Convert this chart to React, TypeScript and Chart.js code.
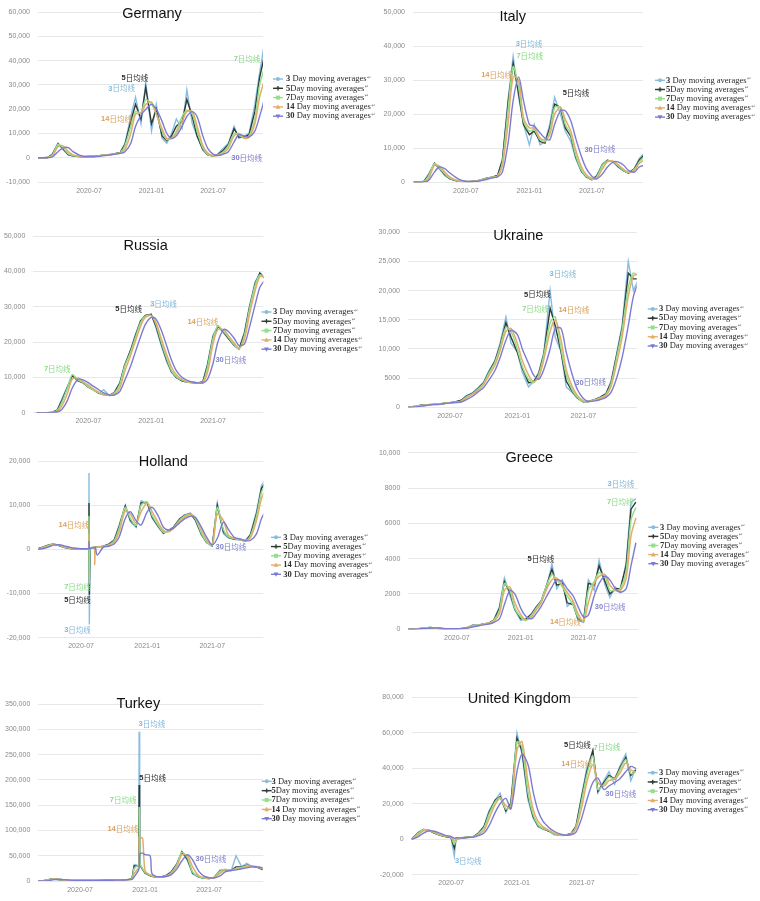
import React, { useEffect, useRef } from 'react';
import { Chart, registerables } from 'chart.js';

Chart.register(...registerables);

// ---------------- categories (dates) ----------------
const BASE_DATES = [
  '2020-02-01', '2020-02-15', '2020-03-01', '2020-03-15', '2020-04-01', '2020-04-15', '2020-05-01', '2020-05-15', '2020-06-01', '2020-06-15',
  '2020-07-01', '2020-07-15', '2020-08-01', '2020-08-15', '2020-09-01', '2020-09-15', '2020-10-01', '2020-10-15', '2020-11-01', '2020-11-15',
  '2020-12-01', '2020-12-15', '2021-01-01', '2021-01-15', '2021-02-01', '2021-02-15', '2021-03-01', '2021-03-15', '2021-04-01', '2021-04-15',
  '2021-05-01', '2021-05-15', '2021-06-01', '2021-06-15', '2021-07-01', '2021-07-15', '2021-08-01', '2021-08-15', '2021-09-01', '2021-09-15',
  '2021-10-01', '2021-10-15', '2021-11-01', '2021-11-15', '2021-11-29',
];
const HOLLAND_DATES = [
  '2020-02-01', '2020-02-15', '2020-03-01', '2020-03-15', '2020-04-01', '2020-04-15', '2020-05-01', '2020-05-15', '2020-06-01', '2020-06-15',
  '2020-07-01', '2020-07-15', '2020-07-22', '2020-07-23', '2020-07-24', '2020-07-26', '2020-08-01', '2020-08-07', '2020-08-08', '2020-08-10',
  '2020-08-15', '2020-09-01', '2020-09-15', '2020-10-01', '2020-10-15', '2020-11-01', '2020-11-15', '2020-12-01', '2020-12-15', '2021-01-01',
  '2021-01-15', '2021-02-01', '2021-02-15', '2021-03-01', '2021-03-15', '2021-04-01', '2021-04-15', '2021-05-01', '2021-05-15', '2021-06-01',
  '2021-06-15', '2021-07-01', '2021-07-15', '2021-08-01', '2021-08-15', '2021-09-01', '2021-09-15', '2021-10-01', '2021-10-15', '2021-11-01',
  '2021-11-15', '2021-11-29',
];
const TURKEY_DATES = [
  '2020-02-01', '2020-02-15', '2020-03-01', '2020-03-15', '2020-04-01', '2020-04-15', '2020-05-01', '2020-05-15', '2020-06-01', '2020-06-15',
  '2020-07-01', '2020-07-15', '2020-08-01', '2020-08-15', '2020-09-01', '2020-09-15', '2020-10-01', '2020-10-15', '2020-11-01', '2020-11-15',
  '2020-11-25', '2020-12-01', '2020-12-14', '2020-12-15', '2020-12-16', '2020-12-17', '2020-12-20', '2020-12-25', '2021-01-01', '2021-01-15',
  '2021-01-20', '2021-02-01', '2021-02-15', '2021-03-01', '2021-03-15', '2021-04-01', '2021-04-15', '2021-05-01', '2021-05-15', '2021-06-01',
  '2021-06-15', '2021-07-01', '2021-07-15', '2021-08-01', '2021-08-15', '2021-09-01', '2021-09-15', '2021-10-01', '2021-10-15', '2021-11-01',
  '2021-11-15', '2021-11-29',
];
const UK_DATES = [
  '2020-02-01', '2020-02-15', '2020-03-01', '2020-03-15', '2020-04-01', '2020-04-15', '2020-05-01', '2020-05-15', '2020-06-01', '2020-06-15',
  '2020-07-01', '2020-07-10', '2020-07-15', '2020-08-01', '2020-08-15', '2020-09-01', '2020-09-15', '2020-10-01', '2020-10-15', '2020-11-01',
  '2020-11-15', '2020-12-01', '2020-12-15', '2021-01-01', '2021-01-15', '2021-02-01', '2021-02-15', '2021-03-01', '2021-03-15', '2021-04-01',
  '2021-04-15', '2021-05-01', '2021-05-15', '2021-06-01', '2021-06-15', '2021-07-01', '2021-07-15', '2021-08-01', '2021-08-15', '2021-09-01',
  '2021-09-15', '2021-10-01', '2021-10-15', '2021-11-01', '2021-11-15', '2021-11-29',
];

const X_TICK_DATES = ['2020-07-01', '2021-01-01', '2021-07-01'];
const X_TICK_LABELS = ['2020-07', '2021-01', '2021-07'];

const LEGEND_NUMBERS = ['3', '5', '7', '14', '30'];
const LEGEND_TEXTS = [' Day moving averages', 'Day moving averages', 'Day moving averages', ' Day moving averages', ' Day moving averages'];
const NOTE_TEXTS = ['日均线', '日均线', '日均线', '日均线', '日均线'];

// ---------------- series values (thousands of daily cases) ----------------
const GERMANY_3 = [0, 0, 0.1, 1.5, 6, 3.5, 1.2, 0.7, 0.5, 0.4, 0.5, 0.5, 0.8, 1.2, 1.3, 1.7, 2.2, 6, 17, 25, 14, 31, 11, 22, 8, 6, 10, 16, 12, 28, 14, 9, 3, 1.2, 0.6, 1.5, 4, 6, 13, 8, 9, 10, 22, 35, 47];
const GERMANY_5 = [0, 0, 0.1, 1.3, 5.8, 3.8, 1.3, 0.8, 0.5, 0.4, 0.5, 0.5, 0.8, 1.2, 1.3, 1.7, 2.1, 5.5, 15, 22, 16, 29, 14, 20, 9, 7, 9, 13, 15, 24, 17, 9, 3.5, 1.3, 0.7, 1.3, 3.2, 5.5, 12, 8.5, 8.5, 9.5, 19, 33, 42];
const GERMANY_7 = [0, 0, 0.08, 1.1, 5.5, 4.2, 1.6, 0.9, 0.5, 0.4, 0.5, 0.5, 0.8, 1.2, 1.3, 1.6, 2.0, 5, 13, 19, 18.5, 24, 22, 18, 11, 7.5, 8, 11, 17, 19.5, 18, 11, 4, 1.5, 0.7, 1.2, 2.5, 5, 10, 9.5, 8, 9, 16, 30, 37];
const GERMANY_14 = [0, 0, 0.05, 0.7, 4.5, 5, 2.5, 1.2, 0.6, 0.45, 0.5, 0.5, 0.7, 1.1, 1.3, 1.6, 1.9, 3.5, 10, 18, 18.5, 22, 23, 18, 12, 8, 8, 10, 15, 19, 19, 13, 5, 2, 0.8, 1.0, 2, 4, 9, 10, 8, 8.5, 14, 25, 32];
const GERMANY_30 = [0, 0, 0.02, 0.3, 2.5, 4, 4.2, 2.5, 1.2, 0.6, 0.5, 0.5, 0.6, 0.9, 1.2, 1.5, 1.8, 2.5, 6, 13, 17.5, 20, 22, 20, 15, 10, 8, 9, 13, 17, 19, 17, 9, 4, 1.5, 0.9, 1.5, 2.5, 6.5, 9.5, 9, 8.5, 11, 17, 24];

const ITALY_3 = [0, 0, 0.3, 2.5, 5.5, 4, 2, 1, 0.5, 0.3, 0.2, 0.25, 0.4, 0.8, 1.3, 1.5, 2, 7, 25, 37, 25, 17, 11, 17, 11, 12, 17, 25, 20, 15, 12, 7, 3, 1.5, 0.8, 2, 5.5, 6.5, 6, 4.5, 3.3, 2.7, 4, 7, 8.5];
const ITALY_5 = [0, 0, 0.2, 2, 5.6, 4.2, 2.2, 1.1, 0.5, 0.3, 0.2, 0.25, 0.4, 0.7, 1.3, 1.5, 2, 6.5, 24, 35, 26, 17, 14, 15, 12, 11.5, 16, 23, 22, 16, 13.5, 7.5, 3.2, 1.6, 0.8, 1.8, 5.2, 6.5, 6, 4.6, 3.4, 2.7, 4, 6.5, 8];
const ITALY_7 = [0, 0, 0.2, 1.8, 5.5, 4.3, 2.5, 1.2, 0.6, 0.3, 0.2, 0.25, 0.4, 0.7, 1.2, 1.5, 1.9, 6, 22, 34, 28, 18, 15, 15.5, 12.5, 12, 15, 22, 22, 17, 14, 8, 3.5, 1.7, 0.9, 1.6, 5, 6.3, 6, 4.8, 3.5, 2.8, 3.8, 6, 7.5];
const ITALY_14 = [0, 0, 0.1, 1, 5, 4.8, 3, 1.6, 0.7, 0.4, 0.2, 0.25, 0.35, 0.6, 1.1, 1.4, 1.8, 5, 18, 31, 30, 19, 16, 16, 13, 12.5, 14, 20, 22, 18.5, 15, 9.5, 4.5, 2.2, 1.1, 1.2, 4, 6, 6.2, 5.2, 3.8, 3, 3.5, 5.5, 6.5];
const ITALY_30 = [0, 0, 0.05, 0.5, 3, 4.5, 4, 2.8, 1.5, 0.7, 0.3, 0.25, 0.3, 0.5, 0.9, 1.3, 1.6, 3, 12, 24, 31, 24, 17, 16.5, 14.5, 13, 12.5, 17, 21, 21, 18, 13, 7.5, 4, 1.8, 1.0, 2.5, 4.5, 6, 6, 5, 3.5, 3, 4.5, 5];

const RUSSIA_3 = [0, 0, 0, 0.05, 0.8, 4, 7.5, 10.5, 9, 8.5, 7.2, 6.5, 5.5, 6.5, 4.8, 5.8, 8.5, 13.5, 17.5, 22, 26, 27.5, 28, 24, 18.5, 14.5, 11.5, 10, 9, 8.7, 8.5, 8.3, 8.8, 14, 22, 24.5, 22.5, 21, 19, 18, 23, 30, 37, 39.5, 38];
const RUSSIA_5 = [0, 0, 0, 0.04, 0.7, 3.5, 7.2, 10.5, 9, 8.5, 7.2, 6.5, 5.5, 5.2, 4.9, 5.7, 8.3, 13.3, 17.5, 21.5, 26, 27.5, 27.8, 24.5, 19, 15, 11.7, 10, 9, 8.7, 8.5, 8.4, 8.7, 13.5, 21.5, 24.5, 22.8, 21, 19, 18, 22.5, 29.5, 36.5, 39.5, 38];
const RUSSIA_7 = [0, 0, 0, 0.03, 0.6, 3, 7, 10.8, 9.2, 8.6, 7.3, 6.5, 5.6, 5, 5, 5.6, 8, 13, 17, 21, 25.5, 27.3, 27.5, 25, 19.5, 15.5, 12, 10.2, 9.2, 8.7, 8.5, 8.5, 8.6, 13, 21, 24.5, 23, 21.3, 19.2, 18, 22, 29, 36, 39, 38.2];
const RUSSIA_14 = [0, 0, 0, 0.02, 0.4, 2, 5.5, 9.5, 9.8, 8.8, 7.8, 6.8, 5.8, 5.1, 5, 5.3, 7, 11.5, 16, 20, 24.5, 27, 27.5, 25.5, 20.5, 16.5, 13, 10.8, 9.4, 8.8, 8.6, 8.5, 8.5, 11.5, 19.5, 23.5, 23.5, 21.8, 19.7, 18.3, 21, 27.5, 34.5, 38.5, 38.5];
const RUSSIA_30 = [0, 0, 0, 0, 0.2, 1, 3.5, 7, 9.5, 9.3, 8.5, 7.5, 6.5, 5.6, 5, 5, 6, 9, 13, 17, 21.5, 25, 27, 26.5, 23, 19, 15, 12, 10, 9.2, 8.7, 8.5, 8.4, 9.5, 14, 20, 23.5, 23, 21, 19, 19.5, 24, 30.5, 35.5, 37.5];

const UKRAINE_3 = [0, 0, 0, 0.05, 0.2, 0.4, 0.45, 0.5, 0.55, 0.7, 0.8, 0.9, 1.2, 2.0, 2.5, 3.3, 4.3, 6.2, 8.0, 11, 15.5, 11, 9.5, 6, 3.5, 4.5, 6.0, 9.5, 20, 12, 9.5, 3.5, 2.5, 1.5, 0.9, 1.0, 1.3, 1.7, 2.4, 4.5, 9.5, 14, 25, 20, 22];
const UKRAINE_5 = [0, 0, 0, 0.05, 0.2, 0.4, 0.45, 0.5, 0.55, 0.7, 0.8, 0.9, 1.2, 1.9, 2.4, 3.2, 4.2, 6.0, 7.9, 10.6, 14.5, 12, 9.5, 6.7, 4.2, 4.3, 5.8, 9.2, 17, 14, 9.5, 4.5, 2.7, 1.6, 0.9, 1.0, 1.3, 1.7, 2.3, 4.3, 9.2, 13.5, 23, 22, 22];
const UKRAINE_7 = [0, 0, 0, 0.04, 0.2, 0.35, 0.45, 0.5, 0.55, 0.7, 0.8, 0.85, 1.1, 1.8, 2.3, 3.1, 4.1, 5.8, 7.7, 10.3, 13.7, 13, 10, 7, 4.8, 4.2, 5.6, 9, 14.5, 15.5, 10, 5.6, 2.9, 1.7, 0.95, 1.0, 1.3, 1.6, 2.2, 4.1, 8.8, 13.2, 20.5, 23, 22.5];
const UKRAINE_14 = [0, 0, 0, 0.03, 0.15, 0.3, 0.4, 0.5, 0.5, 0.65, 0.8, 0.85, 1.0, 1.6, 2.2, 2.9, 3.9, 5.4, 7.2, 9.7, 13, 13.5, 11, 8, 5.5, 4.4, 5.2, 8.2, 13, 15, 11.5, 6.5, 3.5, 2, 1.1, 1.0, 1.2, 1.5, 2.0, 3.6, 7.8, 12, 19, 22.5, 22.8];
const UKRAINE_30 = [0, 0, 0, 0, 0.1, 0.2, 0.35, 0.45, 0.5, 0.6, 0.75, 0.8, 0.9, 1.3, 1.9, 2.6, 3.4, 4.6, 6.3, 8.5, 11.5, 13.2, 12.5, 10, 7.5, 5.5, 4.8, 6.5, 10, 13.5, 13.5, 9.5, 5.5, 3, 1.5, 1.0, 1.1, 1.3, 1.7, 2.6, 5.2, 8.5, 14, 19, 21.5];

const HOLLAND_3 = [0, 0, 0.05, 0.5, 1.0, 1.2, 0.8, 0.4, 0.2, 0.15, 0.1, 0.15, 0.1, 17.3, -17, 0.3, 0.4, 0.5, 0.5, 0.5, 0.5, 0.7, 1.2, 2.2, 5.5, 10, 6.3, 5, 11, 10.5, 7, 5, 3.5, 4.3, 5, 7, 7.8, 8.2, 6.5, 3.2, 1.5, 0.7, 10.5, 3.5, 2.6, 2.3, 2.2, 1.8, 3.5, 8.5, 14.5, 16];
const HOLLAND_5 = [0, 0, 0.05, 0.45, 0.95, 1.2, 0.85, 0.45, 0.2, 0.15, 0.1, 0.15, 0.1, 10.5, -10.3, 0.25, 0.4, 0.5, 0.5, 0.5, 0.5, 0.7, 1.1, 2.0, 5.2, 9.8, 6.6, 5.2, 10.5, 10.6, 7.3, 5.2, 3.7, 4.2, 5, 6.8, 7.7, 8.1, 6.7, 3.4, 1.6, 0.8, 10, 4, 2.7, 2.3, 2.2, 1.9, 3.2, 8, 13.8, 15.5];
const HOLLAND_7 = [0, 0, 0.05, 0.4, 0.9, 1.2, 0.9, 0.5, 0.25, 0.15, 0.1, 0.15, 0.1, 7.4, -7.5, 0.25, 0.4, 0.5, 0.5, 0.5, 0.5, 0.7, 1.0, 1.9, 4.8, 9.5, 7, 5.4, 10, 10.7, 7.6, 5.4, 3.9, 4.1, 4.9, 6.6, 7.6, 8, 6.9, 3.6, 1.7, 0.8, 9.5, 4.5, 2.8, 2.4, 2.2, 1.9, 3, 7.5, 13, 15];
const HOLLAND_14 = [0, 0, 0.03, 0.3, 0.7, 1.1, 1.0, 0.6, 0.3, 0.2, 0.15, 0.15, 0.12, 3.5, 0.2, 0.3, 0.4, 0.4, -3.5, 0.4, 0.5, 0.6, 0.9, 1.6, 4, 8.7, 8, 6, 8.5, 10.5, 8.5, 6, 4.3, 4, 4.7, 6.2, 7.3, 7.9, 7.3, 4.5, 2.2, 1.0, 8, 6.5, 3.2, 2.5, 2.3, 2, 2.6, 6.5, 11.5, 14];
const HOLLAND_30 = [0, 0, 0.02, 0.15, 0.5, 0.95, 1.05, 0.8, 0.45, 0.25, 0.15, 0.15, 0.12, 1.8, 0.15, 0.2, 0.3, 0.35, 0.35, 0.4, -1.3, 0.5, 0.7, 1.2, 2.8, 7, 8.5, 6.5, 5.5, 8.5, 9.5, 7.5, 5, 4.4, 4.8, 6, 6.9, 7.5, 7.2, 5, 2.8, 1.0, 2.5, 6.2, 4.5, 2.7, 2.4, 2.0, 2.0, 3.5, 7, 9];

const GREECE_3 = [0, 0, 0.01, 0.05, 0.08, 0.1, 0.06, 0.03, 0.02, 0.03, 0.03, 0.05, 0.1, 0.25, 0.22, 0.3, 0.35, 0.5, 1.3, 2.9, 1.9, 1.1, 0.5, 0.6, 0.9, 1.3, 1.6, 2.2, 3.7, 2.3, 2.8, 1.3, 1.6, 0.5, 0.4, 2.8, 2.2, 3.9, 2.5, 1.8, 2.4, 2.1, 3.8, 7.2, 7.4];
const GREECE_5 = [0, 0, 0.01, 0.04, 0.08, 0.1, 0.07, 0.03, 0.02, 0.03, 0.03, 0.05, 0.1, 0.22, 0.23, 0.3, 0.35, 0.5, 1.2, 2.7, 2.1, 1.15, 0.6, 0.55, 0.85, 1.25, 1.6, 2.4, 3.4, 2.5, 2.6, 1.5, 1.4, 0.6, 0.45, 2.6, 2.5, 3.6, 2.7, 2.0, 2.3, 2.3, 3.6, 6.8, 7.2];
const GREECE_7 = [0, 0, 0.01, 0.04, 0.07, 0.1, 0.07, 0.04, 0.02, 0.03, 0.03, 0.05, 0.1, 0.2, 0.23, 0.3, 0.35, 0.5, 1.1, 2.6, 2.2, 1.2, 0.7, 0.5, 0.8, 1.2, 1.6, 2.4, 3.1, 2.8, 2.4, 1.9, 1.4, 0.7, 0.5, 2.2, 2.7, 3.2, 3.0, 2.2, 2.2, 2.3, 3.3, 6.2, 6.9];
const GREECE_14 = [0, 0, 0, 0.03, 0.06, 0.09, 0.08, 0.05, 0.03, 0.03, 0.03, 0.05, 0.09, 0.18, 0.22, 0.28, 0.34, 0.45, 0.9, 2.2, 2.4, 1.5, 0.85, 0.55, 0.7, 1.1, 1.5, 2.2, 2.8, 2.9, 2.5, 2.1, 1.6, 0.9, 0.45, 1.5, 2.6, 3.0, 3.1, 2.5, 2.2, 2.2, 2.9, 5.3, 6.3];
const GREECE_30 = [0, 0, 0, 0.02, 0.04, 0.07, 0.08, 0.07, 0.04, 0.03, 0.03, 0.04, 0.07, 0.13, 0.2, 0.25, 0.3, 0.38, 0.6, 1.4, 2.2, 2.0, 1.2, 0.75, 0.6, 0.9, 1.3, 1.8, 2.4, 2.8, 2.7, 2.3, 1.9, 1.3, 0.7, 0.8, 1.9, 2.6, 3.0, 2.8, 2.3, 2.1, 2.3, 3.6, 4.9];

const TURKEY_3 = [0, 0, 0, 0.3, 2.5, 4.5, 2.5, 1.8, 1, 1.2, 1.2, 1, 1, 1.2, 1.5, 1.7, 1.6, 1.7, 2.2, 3.3, 5, 33, 30, 295, 32, 30, 28, 22, 15, 10, 9.5, 7.5, 8, 11, 18, 35, 58, 40, 14, 7.5, 5.5, 5, 7.5, 22, 22, 20, 50, 28, 35, 28, 27, 22];
const TURKEY_5 = [0, 0, 0, 0.25, 2.3, 4.3, 2.7, 1.9, 1.1, 1.2, 1.2, 1, 1, 1.2, 1.5, 1.7, 1.6, 1.7, 2.2, 3.3, 4.5, 30, 30, 190, 185, 30, 29, 23, 16, 10.5, 9.5, 7.8, 8, 10.5, 17, 34, 58, 42, 16, 8, 5.8, 5, 7.2, 20, 22.5, 21, 28, 28, 31, 29, 27, 23];
const TURKEY_7 = [0, 0, 0, 0.2, 2, 4.2, 2.9, 2, 1.2, 1.2, 1.2, 1, 1, 1.2, 1.5, 1.7, 1.6, 1.7, 2.1, 3.2, 4.2, 25, 33, 145, 145, 33, 30, 24, 17, 11, 10, 8, 8, 10, 16, 33, 57, 45, 18, 8.5, 6, 5.2, 7, 19, 23, 21, 25, 27, 30, 29, 27.5, 24];
const TURKEY_14 = [0, 0, 0, 0.1, 1.3, 3.8, 3.3, 2.3, 1.4, 1.2, 1.2, 1.1, 1, 1.2, 1.4, 1.6, 1.6, 1.7, 2, 3, 3.8, 15, 28, 87, 87, 87, 86, 84, 20, 12, 11, 8.5, 8, 9.5, 14, 30, 52, 50, 28, 11, 7, 5.5, 6.5, 15, 22, 21.5, 23, 25, 28, 29, 28, 25];
const TURKEY_30 = [0, 0, 0, 0.05, 0.6, 2.5, 3.5, 2.8, 1.8, 1.3, 1.2, 1.1, 1, 1.1, 1.3, 1.5, 1.6, 1.7, 1.9, 2.6, 3.2, 8, 22, 28, 50, 54, 55, 55, 52, 50, 15, 9, 8.5, 9, 12, 24, 40, 52, 42, 20, 10, 6.5, 6, 10, 18, 21, 22, 24, 26, 28, 28, 26];

const UK_3 = [0, 0, 0.1, 0.5, 4, 5.5, 5, 3.5, 2.2, 1.5, 0.8, -9.5, 0.5, 0.8, 1.1, 1.5, 3.5, 7.5, 16, 22, 26, 15, 21, 60, 48, 22, 12, 7, 5.5, 4.5, 2.5, 2.2, 2.2, 3.3, 7.5, 25, 40, 50, 26, 33, 38, 31, 41, 48, 33, 40];
const UK_5 = [0, 0, 0.1, 0.4, 3.8, 5.5, 5, 3.5, 2.2, 1.5, 0.9, -5, 0, 0.8, 1.1, 1.4, 3.3, 7, 15, 22, 24, 16, 20, 57, 50, 24, 13, 7.5, 6, 4.5, 3, 2.2, 2.2, 3.2, 7.2, 24, 38, 50, 27, 32, 36, 34, 40, 46, 36, 39];
const UK_7 = [0, 0, 0.08, 0.35, 3.5, 5.3, 5, 3.7, 2.3, 1.6, 1, -3, -0.5, 0.8, 1.1, 1.4, 3.1, 6.5, 14, 21, 23.5, 17, 19, 55, 52, 26, 14, 8, 6, 4.7, 3, 2.3, 2.2, 3.1, 7, 22, 36, 47, 28, 31, 35, 34, 39, 45, 37, 38];
const UK_14 = [0, 0, 0.05, 0.2, 2.5, 4.8, 5, 4, 2.7, 1.8, 1.2, -1, 0.3, 0.7, 1.0, 1.3, 2.6, 5, 11.5, 19.5, 23, 19, 17.5, 50, 55, 32, 17, 10, 7, 5, 3.5, 2.5, 2.2, 2.8, 6, 18, 32, 42, 32, 30, 33, 34, 37, 43, 39, 38];
const UK_30 = [0, 0, 0.02, 0.1, 1.5, 3.5, 4.8, 4.5, 3.3, 2.2, 1.5, 0.5, 0.8, 0.7, 0.9, 1.2, 2, 3.5, 7.5, 15, 20, 23, 17, 38, 48, 42, 27, 16, 10, 6.5, 4.5, 3, 2.3, 2.5, 4, 12, 22, 32, 34.5, 28, 30, 32, 34, 38, 41, 40];

// annotation labels: [series index, date, value]
type Note = [number, string, number];
const GERMANY_NOTES: Note[] = [[2, '2021-10-09', 40600], [1, '2020-11-13', 33000], [0, '2020-10-05', 28500], [3, '2020-09-20', 16000], [4, '2021-10-08', 0]];
const ITALY_NOTES: Note[] = [[0, '2020-12-31', 40600], [2, '2021-01-02', 37200], [3, '2020-09-28', 31600], [1, '2021-05-16', 26350], [4, '2021-07-24', 9630]];
const RUSSIA_NOTES: Note[] = [[2, '2020-04-01', 12400], [1, '2020-10-27', 29300], [0, '2021-02-06', 30800], [3, '2021-06-01', 25750], [4, '2021-08-22', 14800]];
const UKRAINE_NOTES: Note[] = [[0, '2021-05-06', 22800], [1, '2021-02-25', 19300], [2, '2021-02-20', 16900], [3, '2021-06-05', 16650], [4, '2021-07-21', 4250]];
const HOLLAND_NOTES: Note[] = [[3, '2020-06-11', 5430], [2, '2020-06-21', -8460], [1, '2020-06-21', -11400], [0, '2020-06-21', -18330], [4, '2021-08-22', 450]];
const GREECE_NOTES: Note[] = [[0, '2021-10-17', 8215], [2, '2021-10-15', 7210], [1, '2021-02-28', 3966], [4, '2021-09-16', 1280], [3, '2021-05-10', 414]];
const TURKEY_NOTES: Note[] = [[0, '2021-01-20', 310000], [1, '2021-01-22', 203700], [2, '2020-10-31', 160000], [3, '2020-10-30', 102800], [4, '2021-07-06', 44100]];
const UK_NOTES: Note[] = [[0, '2020-08-18', -12450], [1, '2021-06-19', 53000], [2, '2021-09-09', 51700], [3, '2021-06-17', 42230], [4, '2021-10-18', 25640]];

// ---------------- styles ----------------
const LINE_COLORS = ['#86bde0', '#2f3a33', '#93df8c', '#e2ad6a', '#7c7bd3'];
const NOTE_COLORS = ['#82b8d8', '#2b2b2b', '#8bd985', '#d9a35f', '#8282cc'];
const LINE_WIDTHS = [1.4, 1.4, 1.5, 1.5, 1.4];
const LINE_TENSION = [0, 0, 0.25, 0.3, 0.3];
const DRAW_ORDER = [4, 3, 2, 1, 0];
const MARKERS = ['circle', 'cross', 'rect', 'triangle', 'tridown'];
const SANS = '"Liberation Sans", Arial, sans-serif';
const SERIF = '"Liberation Serif", "Times New Roman", serif';
const CJK = '"Noto Sans CJK SC", sans-serif';

type Panel = {
  name: string;
  dates: string[];
  series: number[][];
  notes: Note[];
  box: [number, number, number, number];
  area: [number, number, number, number];
  y: [number, number, number];
  x: [string, string];
  title: [number, number];
  legend: [number, number, number, number];
};

const PANELS: Panel[] = [
  { name: 'Germany', dates: BASE_DATES, series: [GERMANY_3, GERMANY_5, GERMANY_7, GERMANY_14, GERMANY_30], notes: GERMANY_NOTES,
    box: [0, 0, 380, 200], area: [38, 5.7, 263, 182], y: [-10000, 60000, 10000], x: ['2020-02-02', '2021-11-25'], title: [152, 14], legend: [278, 286, 79, 9.3] },
  { name: 'Italy', dates: BASE_DATES, series: [ITALY_3, ITALY_5, ITALY_7, ITALY_14, ITALY_30], notes: ITALY_NOTES,
    box: [378, 0, 382, 200], area: [413, 6, 643, 182.3], y: [0, 50000, 10000], x: ['2020-01-30', '2021-11-26'], title: [512.7, 16.7], legend: [660, 666, 80.3, 9.2] },
  { name: 'Russia', dates: BASE_DATES, series: [RUSSIA_3, RUSSIA_5, RUSSIA_7, RUSSIA_14, RUSSIA_30], notes: RUSSIA_NOTES,
    box: [0, 220, 380, 210], area: [33.3, 236, 263.3, 412.7], y: [0, 50000, 10000], x: ['2020-01-22', '2021-11-25'], title: [145.7, 246], legend: [266.5, 273, 312, 9.3] },
  { name: 'Ukraine', dates: BASE_DATES, series: [UKRAINE_3, UKRAINE_5, UKRAINE_7, UKRAINE_14, UKRAINE_30], notes: UKRAINE_NOTES,
    box: [376, 220, 384, 210], area: [408, 230.7, 636.7, 407.3], y: [0, 30000, 5000], x: ['2020-03-08', '2021-11-24'], title: [518.3, 236], legend: [652.7, 659, 309, 9.25] },
  { name: 'Holland', dates: HOLLAND_DATES, series: [HOLLAND_3, HOLLAND_5, HOLLAND_7, HOLLAND_14, HOLLAND_30], notes: HOLLAND_NOTES,
    box: [0, 440, 380, 220], area: [38.3, 461, 263.3, 637.7], y: [-20000, 20000, 10000], x: ['2020-03-04', '2021-11-20'], title: [163.3, 461.7], legend: [276, 283.3, 537.3, 9.25] },
  { name: 'Greece', dates: BASE_DATES, series: [GREECE_3, GREECE_5, GREECE_7, GREECE_14, GREECE_30], notes: GREECE_NOTES,
    box: [378, 440, 382, 220], area: [408.3, 452.7, 638.3, 629.3], y: [0, 10000, 2000], x: ['2020-02-12', '2021-12-06'], title: [529.3, 458.3], legend: [653.3, 660, 527.3, 9.1] },
  { name: 'Turkey', dates: TURKEY_DATES, series: [TURKEY_3, TURKEY_5, TURKEY_7, TURKEY_14, TURKEY_30], notes: TURKEY_NOTES,
    box: [0, 680, 380, 221], area: [38.3, 704, 263.3, 881], y: [0, 350000, 50000], x: ['2020-03-05', '2021-12-01'], title: [138.3, 704], legend: [266.7, 271.5, 781.3, 9.35] },
  { name: 'United Kingdom', dates: UK_DATES, series: [UK_3, UK_5, UK_7, UK_14, UK_30], notes: UK_NOTES,
    box: [378, 680, 382, 221], area: [411.7, 697.3, 638.3, 874.7], y: [-20000, 80000, 20000], x: ['2020-03-13', '2021-12-06'], title: [519.3, 699.3], legend: [652.7, 659, 772.7, 9.25] },
];

const ORIGIN = Date.UTC(2020, 1, 1);
function dayOf(s: string): number {
  const [y, m, d] = s.split('-').map(Number);
  return Math.round((Date.UTC(y, m - 1, d) - ORIGIN) / 86400000);
}

function fmtTick(v: number): string {
  return Math.abs(v) >= 10000 ? v.toLocaleString('en-US') : String(v);
}

function drawMarker(ctx: CanvasRenderingContext2D, kind: string, x: number, y: number, color: string) {
  ctx.save();
  ctx.strokeStyle = color;
  ctx.fillStyle = color;
  ctx.lineWidth = 1.4;
  ctx.beginPath();
  ctx.moveTo(x - 5, y);
  ctx.lineTo(x + 5, y);
  ctx.stroke();
  ctx.beginPath();
  if (kind === 'circle') {
    ctx.arc(x, y, 2, 0, Math.PI * 2);
    ctx.fill();
  } else if (kind === 'cross') {
    ctx.lineWidth = 1.3;
    ctx.moveTo(x - 2.2, y); ctx.lineTo(x + 2.2, y);
    ctx.moveTo(x, y - 2.2); ctx.lineTo(x, y + 2.2);
    ctx.stroke();
  } else if (kind === 'rect') {
    ctx.fillRect(x - 2, y - 2, 4, 4);
  } else if (kind === 'triangle') {
    ctx.moveTo(x, y - 2.5); ctx.lineTo(x + 2.4, y + 1.8); ctx.lineTo(x - 2.4, y + 1.8); ctx.closePath();
    ctx.fill();
  } else {
    ctx.moveTo(x, y + 2.5); ctx.lineTo(x + 2.4, y - 1.8); ctx.lineTo(x - 2.4, y - 1.8); ctx.closePath();
    ctx.fill();
  }
  ctx.restore();
}

function decorPlugin(p: Panel) {
  return {
    id: 'panelDecor',
    afterDraw(chart: any) {
      const ctx: CanvasRenderingContext2D = chart.ctx;
      const [bx, by] = p.box;
      ctx.save();
      // title
      ctx.font = `14.5px ${SANS}`;
      ctx.fillStyle = '#111';
      ctx.textAlign = 'center';
      ctx.textBaseline = 'middle';
      ctx.fillText(p.name, p.title[0] - bx, p.title[1] - by);

      // legend
      const [mx, tx, ly, dy] = p.legend;
      for (let i = 0; i < 5; i++) {
        const y = ly + i * dy - by;
        drawMarker(ctx, MARKERS[i], mx - bx, y, LINE_COLORS[i]);
        ctx.textAlign = 'left';
        ctx.textBaseline = 'middle';
        ctx.fillStyle = '#2a2a2a';
        let x = tx - bx;
        ctx.font = `bold 8.5px ${SERIF}`;
        ctx.fillText(LEGEND_NUMBERS[i], x, y);
        x += ctx.measureText(LEGEND_NUMBERS[i]).width;
        ctx.font = `8.5px ${SERIF}`;
        ctx.fillText(LEGEND_TEXTS[i], x, y);
        x += ctx.measureText(LEGEND_TEXTS[i]).width;
        ctx.font = `5px "DejaVu Sans", sans-serif`;
        ctx.fillStyle = '#777';
        ctx.fillText('↵', x + 0.5, y - 1.5);
      }

      // annotations
      const xs = chart.scales.x;
      const ys = chart.scales.y;
      for (const [si, date, value] of p.notes) {
        const cx = xs.getPixelForValue(dayOf(date));
        const cy = ys.getPixelForValue(value);
        const num = LEGEND_NUMBERS[si];
        const txt = NOTE_TEXTS[si];
        ctx.font = `bold 7.5px ${SANS}`;
        const w1 = ctx.measureText(num).width;
        ctx.font = `7.5px ${CJK}`;
        const w2 = ctx.measureText(txt).width;
        let x = cx - (w1 + w2) / 2;
        ctx.fillStyle = NOTE_COLORS[si];
        ctx.textAlign = 'left';
        ctx.textBaseline = 'middle';
        ctx.font = `bold 7.5px ${SANS}`;
        ctx.fillText(num, x, cy);
        x += w1;
        ctx.font = `7.5px ${CJK}`;
        ctx.fillText(txt, x, cy);
      }
      ctx.restore();
    },
  };
}

function PanelChart({ panel }: { panel: Panel }) {
  const ref = useRef<HTMLCanvasElement | null>(null);
  useEffect(() => {
    if (!ref.current) return;
    const p = panel;
    const [bx, by, bw, bh] = p.box;
    const [al, at, ar, ab] = p.area;
    const chart = new Chart(ref.current, {
      type: 'line',
      data: {
        datasets: p.series.map((s, i) => ({
          label: LEGEND_NUMBERS[i] + LEGEND_TEXTS[i],
          data: s.map((v, j) => ({ x: dayOf(p.dates[j]), y: v * 1000 })),
          borderColor: LINE_COLORS[i],
          backgroundColor: LINE_COLORS[i],
          borderWidth: LINE_WIDTHS[i],
          pointRadius: 0,
          pointHoverRadius: 0,
          tension: LINE_TENSION[i],
          fill: false,
          order: DRAW_ORDER[i],
        })),
      },
      options: {
        responsive: false,
        maintainAspectRatio: false,
        animation: false,
        devicePixelRatio: 1,
        events: [],
        layout: { padding: { left: 0, top: at - by, right: bx + bw - ar, bottom: 0 } },
        plugins: { legend: { display: false }, tooltip: { enabled: false }, title: { display: false } },
        scales: {
          x: {
            type: 'linear',
            min: dayOf(p.x[0]),
            max: dayOf(p.x[1]),
            grid: { display: false, drawTicks: false },
            border: { display: false },
            afterBuildTicks: (scale: any) => {
              scale.ticks = X_TICK_DATES.map((d) => ({ value: dayOf(d) }));
            },
            afterFit: (scale: any) => {
              scale.height = by + bh - ab;
            },
            ticks: {
              autoSkip: false,
              maxRotation: 0,
              minRotation: 0,
              padding: 4.5,
              color: '#8a8a8a',
              font: { size: 7, family: SANS },
              callback: (_v: any, i: number) => X_TICK_LABELS[i],
            },
          },
          y: {
            type: 'linear',
            min: p.y[0],
            max: p.y[1],
            grid: { color: '#e8e8e8', lineWidth: 1, drawTicks: false },
            border: { display: false },
            afterFit: (scale: any) => {
              scale.width = al - bx;
            },
            ticks: {
              stepSize: p.y[2],
              padding: 8,
              color: '#8a8a8a',
              font: { size: 7, family: SANS },
              callback: (v: any) => fmtTick(Number(v)),
            },
          },
        },
      },
      plugins: [decorPlugin(p)],
    } as any);
    return () => chart.destroy();
  }, [panel]);

  const [bx, by, bw, bh] = panel.box;
  return (
    <canvas
      ref={ref}
      width={bw}
      height={bh}
      style={{ position: 'absolute', left: bx, top: by, width: bw, height: bh, display: 'block' }}
    />
  );
}

export default function App() {
  return (
    <div style={{ position: 'absolute', left: 0, top: 0, width: 760, height: 901, background: '#fff', overflow: 'hidden' }}>
      {PANELS.map((p) => (
        <PanelChart key={p.name} panel={p} />
      ))}
    </div>
  );
}
